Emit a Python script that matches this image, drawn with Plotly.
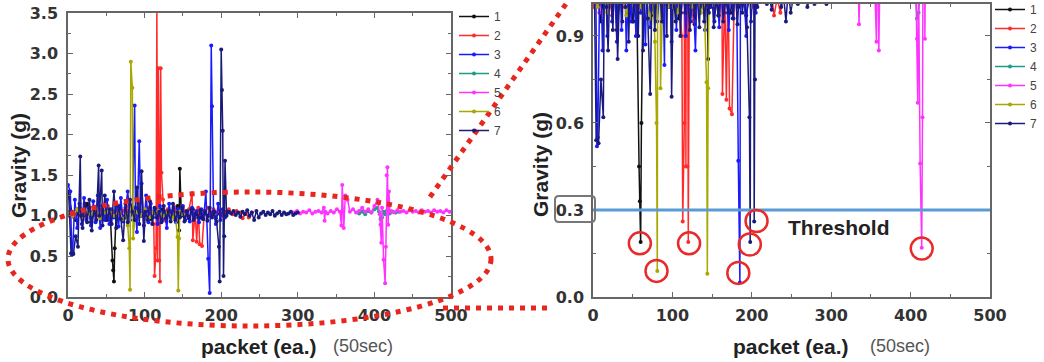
import plotly.graph_objects as go

W, H = 1044, 362

# ---------------- data (packet index, gravity in g) ----------------
names = ["1", "2", "3", "4", "5", "6", "7"]
colors = ["#111111", "#ff2a2a", "#1a1aff", "#1f9b8a", "#ff33ff", "#a8a800", "#1a1a7a"]

s1_x = [0,5,10,15,20,25,30,35,40,45, 50,55,58,59,60,61,63,68,73,78, 83,88,93,98,103,108,113,118,123,128,
        133,138,143,145,146,148,153,158,163,168, 173,178,183,188,193,198,203,208]
s1_y = [1.30,1.05,0.95,1.10,1.00,1.15,0.92,1.08,1.02,1.12, 0.95,1.05,0.45,0.33,0.19,0.60,1.05,1.10,0.97,1.05,
        1.12,0.95,1.08,1.00,1.10,0.96,1.05,1.02,1.08,0.94, 1.06,1.00,1.12,0.82,1.58,1.00,1.05,0.97,1.08,1.02,
        0.98,1.06,1.00,1.04,0.97,1.05,1.02,1.04]

s2_x = [0,4,8,12,16,20,24,28,32,36, 40,44,48,52,56,60,64,68,72,76, 80,84,88,92,96,100,104,108,112,113,
        115,116,117,118,119,120,121,122,124,126, 130,134,138,142,146,150,154,158,162,163,
        166,168,170,172,175,178,182,186,190,194, 198,202,206,210,215,220,225,228,232,236, 240]
s2_y = [1.00,1.05,0.98,1.08,1.02,1.05,0.97,1.10,1.03,1.06, 1.00,1.08,1.04,1.12,0.98,1.05,1.10,1.02,1.06,1.12,
        1.00,1.08,1.04,1.15,1.00,1.05,1.10,1.02,0.90,0.26, 0.60,3.60,0.45,2.82,0.45,0.19,2.82,1.53,1.20,0.95,
        1.08,1.02,1.12,1.05,1.00,1.10,1.04,1.08,1.28,0.70, 1.05,0.68,1.10,0.65,0.63,1.05,1.10,1.02,1.08,1.04,
        1.06,1.00,1.05,1.08,1.02,1.06,1.04,0.97,1.03,0.98, 1.04]

s3_x = [0,3,5,6,9,12,15,18,21,24, 27,30,33,36,39,42,45,48,51,54, 57,60,63,66,69,72,75,78,81,84,
        87,88,90,93,95,96,99,102,105,108, 111,114,117,120,123,126,129,132,135,138,
        141,144,147,150,153,156,159,162,165,168, 171,174,177,180,183,185,187,188,190,193, 196,199,202,205,208]
s3_y = [1.38,1.30,0.52,0.55,1.20,0.85,1.15,0.90,1.22,0.95, 1.10,0.88,1.18,0.92,1.25,0.85,1.12,0.95,1.20,0.90,
        1.08,0.98,1.15,0.87,1.22,0.93,1.10,1.30,0.95,1.05, 2.36,1.10,0.80,1.92,1.00,1.40,0.88,1.25,0.92,1.15,
        0.98,1.08,0.90,1.12,0.95,1.05,0.85,1.15,0.98,1.10, 0.92,1.08,1.00,1.12,0.95,1.05,0.93,1.10,0.98,1.06,
        0.92,1.08,0.96,1.30,0.47,0.05,3.10,2.35,1.05,0.90, 1.15,0.95,1.08,0.98,1.05]

s4_x = [380,384,388,392,396,400,403,406,408,410,412,414,416,418,420,424,428,432]
s4_y = [1.03,1.05,1.02,1.06,1.04,1.08,1.10,1.05,0.96,0.98,1.05,1.02,1.06,1.04,1.03,1.05,1.04,1.05]

s5_x = [295,299,303,307,311,315,319,323,327,331, 334,335,336,339,343,347,351,355,357,358,
        360,362,365,368,372,376,380,384,388,392, 396,400,404,407,408,409,410,412,414,415,
        416,417,418,419,420,422,426,430,434,438, 442,446,450,454,458,462,466,470,474,478, 482,486,490,494,498]
s5_y = [1.04,1.06,1.03,1.05,1.04,1.07,1.03,1.05,1.06,1.04, 1.10,0.94,1.05,1.03,1.06,1.04,1.08,1.05,0.88,1.38,
        0.85,1.25,1.20,1.05,1.08,1.04,1.06,1.10,1.05,1.08, 1.04,1.12,1.20,1.02,0.89,0.67,1.10,0.46,0.17,0.62,
        1.50,1.60,0.89,1.30,1.05,1.06,1.04,1.07,1.05,1.06, 1.04,1.07,1.05,1.06,1.04,1.07,1.05,1.06,1.04,1.07,
        1.05,1.06,1.04,1.07,1.05]

s6_x = [0,6,12,18,24,30,36,42,48,54, 60,66,72,76,78,80,81,82,84,85, 88,94,100,106,112,118,124,130,136,140,
        143,144,145,146,150]
s6_y = [1.05,1.00,1.08,0.98,1.05,1.02,1.10,0.97,1.04,1.08, 1.00,1.05,0.96,1.02,0.88,0.60,0.09,2.90,2.58,0.72,
        1.05,1.00,1.08,0.98,1.04,1.06,1.00,1.05,0.98,1.02, 0.74,0.08,0.72,1.05,1.02]

s7_x = [1,4,7,10,13,16,17,19,22,25, 28,31,34,37,40,41,44,45,48,51, 54,57,60,63,66,69,72,75,78,81,
        84,87,90,93,96,99,101,104,107,110, 113,116,119,122,125,128,131,134,137,140,
        143,146,149,152,155,158,161,164,167,170, 173,176,179,182,185,188,191,194,197,198,
        200,201,202,203,204,205,207,210,213,216, 219,222,225,228,231,234,237,240,243,246,
        249,252,255,258,261,264,267,270,273,276, 279,282,285,288,291,294,297,300]
s7_y = [1.25,0.54,0.53,0.75,0.62,1.73,1.00,0.85,1.15,0.92, 1.20,0.82,1.10,0.95,1.62,1.00,1.56,0.88,1.25,0.95,
        1.08,0.90,1.30,0.85,1.12,0.96,0.70,1.15,0.92,1.20, 1.05,0.95,1.35,0.90,1.55,0.69,1.05,0.95,1.18,0.90,
        1.10,0.98,1.05,0.92,1.12,0.97,1.06,0.93,1.15,0.95, 1.04,0.98,1.10,0.93,1.06,0.97,1.08,0.95,1.03,0.98,
        1.07,0.96,1.05,0.94,1.10,0.98,1.05,0.93,0.62,0.19, 3.05,2.55,2.05,0.26,0.75,1.68,1.00,1.05,1.03,1.06,
        1.01,1.04,0.99,1.05,1.02,1.07,1.00,1.04,0.95,1.06, 0.98,1.03,1.05,1.01,1.04,1.02,1.06,1.00,1.03,1.05,
        1.01,1.04,1.02,1.03,1.05,1.01,1.03,1.04]

series_x = [s1_x, s2_x, s3_x, s4_x, s5_x, s6_x, s7_x]
series_y = [s1_y, s2_y, s3_y, s4_y, s5_y, s6_y, s7_y]
for n, xs, ys in zip(names, series_x, series_y):
    if len(xs) != len(ys):
        raise ValueError(f"series {n}: {len(xs)} x vs {len(ys)} y")

x_ticks = [0, 100, 200, 300, 400, 500]
left_y_ticks = [0.0, 0.5, 1.0, 1.5, 2.0, 2.5, 3.0, 3.5]
right_y_ticks = [0.0, 0.3, 0.6, 0.9]
threshold = 0.3
# points below the threshold that are circled (packet, g)
below_x = [59, 80, 121, 183, 197.5, 206, 414]
below_y = [0.185, 0.09, 0.185, 0.083, 0.181, 0.262, 0.167]

# ---------------- figure ----------------
def fx(p):
    return p / W

def fy(p):
    return 1 - p / H

fig = go.Figure()
for k, (xa, ya, lg) in enumerate([("x", "y", "legend"), ("x2", "y2", "legend2")]):
    for i in range(7):
        fig.add_trace(go.Scatter(
            x=series_x[i], y=series_y[i], mode="lines+markers", name=names[i],
            line=dict(color=colors[i], width=1.5),
            marker=dict(size=4, color=colors[i]),
            xaxis=xa, yaxis=ya, legend=lg, showlegend=True))

tickfont = dict(family="DejaVu Sans", size=16, color="#333333", weight="bold")
axis_common = dict(showline=True, linecolor="#666666", linewidth=1.5, mirror="allticks",
                   ticks="inside", ticklen=5, tickcolor="#666666", tickwidth=1,
                   showgrid=False, zeroline=False, tickfont=tickfont, fixedrange=True)

fig.update_layout(
    width=W, height=H, margin=dict(l=0, r=0, t=0, b=0, autoexpand=False),
    paper_bgcolor="white", plot_bgcolor="white",
    xaxis=dict(domain=[fx(68), fx(451)], range=[0, 500], tickvals=x_ticks, anchor="y",
               ticklabelstandoff=3,
               minor=dict(ticks="inside", ticklen=3, dtick=50, tickcolor="#666666"), **axis_common),
    yaxis=dict(domain=[fy(297), fy(13)], range=[0, 3.5], tickvals=left_y_ticks, tickformat=".1f",
               anchor="x", ticklabelstandoff=5,
               minor=dict(ticks="inside", ticklen=3, dtick=0.25, tickcolor="#666666"),
               **axis_common),
    xaxis2=dict(domain=[fx(593), fx(990)], range=[0, 500], tickvals=x_ticks, anchor="y2",
                ticklabelstandoff=3,
                minor=dict(ticks="inside", ticklen=3, dtick=50, tickcolor="#666666"), **axis_common),
    yaxis2=dict(domain=[fy(297), fy(4)], range=[0, 1.01], tickvals=right_y_ticks, tickformat=".1f",
                anchor="x2", ticklabelstandoff=4,
                minor=dict(ticks="inside", ticklen=3, dtick=0.15, tickcolor="#666666"),
                **axis_common),
    legend=dict(x=fx(454), y=fy(2), xanchor="left", yanchor="top", itemwidth=30, tracegroupgap=0,
                bgcolor="rgba(0,0,0,0)", font=dict(family="Liberation Sans", size=12, color="#444444")),
    legend2=dict(x=fx(990), y=fy(-5), xanchor="left", yanchor="top", itemwidth=30, tracegroupgap=0,
                 bgcolor="rgba(0,0,0,0)", font=dict(family="Liberation Sans", size=12, color="#444444")),
)

shapes = []
red = "#e8261f"
# dotted zoom ellipse and connector lines
shapes.append(dict(type="circle", xref="paper", yref="paper", x0=fx(8), x1=fx(491), y0=fy(326), y1=fy(192),
                   line=dict(color=red, width=5, dash="5px,6px")))
shapes.append(dict(type="line", xref="paper", yref="paper", x0=fx(430), y0=fy(197), x1=fx(566), y1=fy(4),
                   line=dict(color=red, width=5, dash="5px,6px")))
shapes.append(dict(type="line", xref="paper", yref="paper", x0=fx(443), y0=fy(308), x1=fx(547), y1=fy(308),
                   line=dict(color=red, width=5, dash="5px,6px")))
# threshold line
shapes.append(dict(type="line", xref="x2 domain", yref="y2", x0=0, x1=1, y0=threshold, y1=threshold,
                   line=dict(color="#5b9bd5", width=3)))
# circles round the points below threshold
for cx, cy in zip(below_x, below_y):
    shapes.append(dict(type="circle", xref="x2", yref="y2", xsizemode="pixel", ysizemode="pixel",
                       xanchor=cx, yanchor=cy, x0=-11, x1=11, y0=-11, y1=11,
                       line=dict(color="#e82a2a", width=2.5)))
# rounded box around the 0.3 tick label
bx0, bx1, by0, by1, r = 555, 595, 196, 222, 4
path = (f"M{fx(bx0 + r)},{fy(by0)} L{fx(bx1 - r)},{fy(by0)} Q{fx(bx1)},{fy(by0)} {fx(bx1)},{fy(by0 + r)} "
        f"L{fx(bx1)},{fy(by1 - r)} Q{fx(bx1)},{fy(by1)} {fx(bx1 - r)},{fy(by1)} "
        f"L{fx(bx0 + r)},{fy(by1)} Q{fx(bx0)},{fy(by1)} {fx(bx0)},{fy(by1 - r)} "
        f"L{fx(bx0)},{fy(by0 + r)} Q{fx(bx0)},{fy(by0)} {fx(bx0 + r)},{fy(by0)} Z")
shapes.append(dict(type="path", xref="paper", yref="paper", path=path,
                   line=dict(color="#777777", width=2)))
fig.update_layout(shapes=shapes)

title_font = dict(family="Liberation Sans", size=21, color="#222222", weight="bold")
sub_font = dict(family="Liberation Sans", size=18, color="#555555")
ann = []
for gx, gy in [(18, 166), (540, 165)]:
    ann.append(dict(text="Gravity (g)", x=fx(gx), y=fy(gy), xref="paper", yref="paper", showarrow=False,
                    textangle=-90, font=title_font, xanchor="center", yanchor="middle"))
for px_, sx in [(259, 363), (791, 900)]:
    ann.append(dict(text="packet (ea.)", x=fx(px_), y=fy(346), xref="paper", yref="paper", showarrow=False,
                    font=title_font, xanchor="center", yanchor="middle"))
    ann.append(dict(text="(50sec)", x=fx(sx), y=fy(346), xref="paper", yref="paper", showarrow=False,
                    font=sub_font, xanchor="center", yanchor="middle"))
ann.append(dict(text="Threshold", x=fx(839), y=fy(227), xref="paper", yref="paper", showarrow=False,
                font=title_font, xanchor="center", yanchor="middle"))
fig.update_layout(annotations=ann)

fig.write_html("out.html")
